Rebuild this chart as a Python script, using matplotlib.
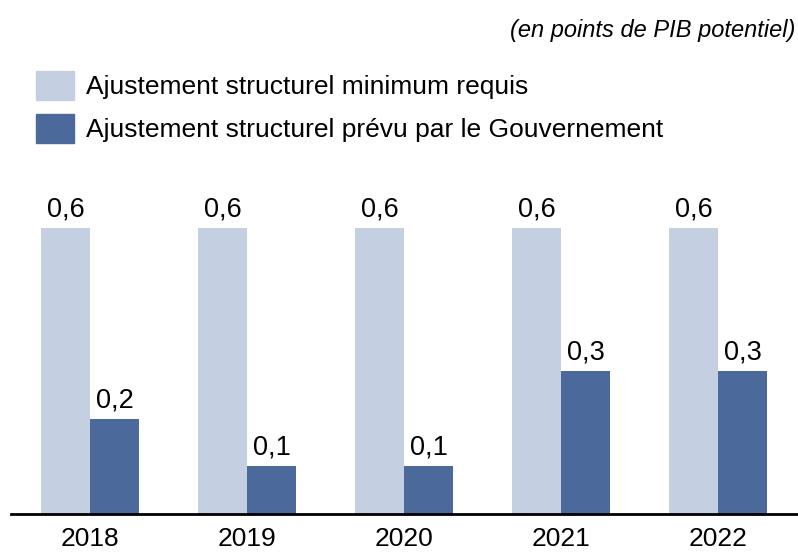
import numpy as np
import matplotlib
matplotlib.use('Agg')
import matplotlib.pyplot as plt
from matplotlib.patches import Rectangle

plt.rcParams['font.family'] = ['Liberation Sans', 'DejaVu Sans']

# Data
years = ['2018', '2019', '2020', '2021', '2022']
minimum_requis = [0.6, 0.6, 0.6, 0.6, 0.6]
prevu_gouv = [0.2, 0.1, 0.1, 0.3, 0.3]
serie_labels = ['Ajustement structurel minimum requis',
                'Ajustement structurel prévu par le Gouvernement']
subtitle = '(en points de PIB potentiel)'

light = '#c4cfe1'
dark = '#4b6a9b'

W, H = 798, 552
fig = plt.figure(figsize=(W / 100, H / 100), dpi=100)

# axes placed in pixel terms
ax_left, ax_right = 11, 798
ax_bottom, ax_top = 514, 180
ax = fig.add_axes([ax_left / W, (H - ax_bottom) / H,
                   (ax_right - ax_left) / W, (ax_bottom - ax_top) / H])

px_per_group = 157
x = np.arange(len(years))
w = 49 / px_per_group
ax.bar(x - w / 2, minimum_requis, w, color=light)
ax.bar(x + w / 2, prevu_gouv, w, color=dark)

ax.set_xlim(-(90 - ax_left) / px_per_group, (ax_right - 90) / px_per_group)
ax.set_ylim(0, (ax_bottom - ax_top) / 476.7)

for xi, v in zip(x, minimum_requis):
    ax.annotate(f'{v:.1f}'.replace('.', ','), (xi - w / 2, v), xytext=(0, 4),
                textcoords='offset points', ha='center', va='bottom', fontsize=19.5)
for xi, v in zip(x, prevu_gouv):
    ax.annotate(f'{v:.1f}'.replace('.', ','), (xi + w / 2, v), xytext=(0, 4),
                textcoords='offset points', ha='center', va='bottom', fontsize=19.5)

for s in ['top', 'right', 'left']:
    ax.spines[s].set_visible(False)
ax.spines['bottom'].set_linewidth(2)
ax.spines['bottom'].set_color('black')
ax.set_yticks([])
ax.set_xticks(x)
ax.set_xticklabels(years, fontsize=19)
ax.tick_params(axis='x', length=0, pad=9.5)

# legend drawn by hand
for i, (lab, col) in enumerate(zip(serie_labels, [light, dark])):
    y0 = 71 + i * 43
    fig.patches.append(Rectangle((36 / W, (H - y0 - 29) / H), 38 / W, 29 / H,
                                 transform=fig.transFigure, color=col))
    fig.text(86 / W, (H - y0 - 16) / H, lab, fontsize=19, va='center', ha='left')

fig.text(795 / W, (H - 30) / H, subtitle, fontsize=17, style='italic',
         ha='right', va='center')

fig.savefig('out.png', dpi=100)
